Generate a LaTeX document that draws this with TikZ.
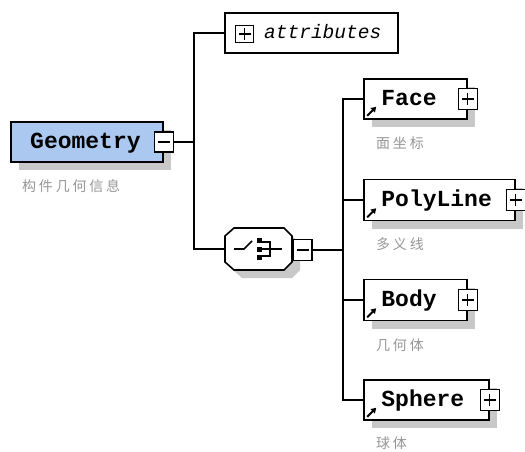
\documentclass[tikz,border=0pt]{standalone}
\usepackage{fontspec}
\setmonofont{Liberation Mono}
\newfontfamily\cjk[LetterSpace=20]{Noto Sans CJK SC}
\usetikzlibrary{arrows.meta,shadows}
\definecolor{boxblue}{RGB}{170,200,240}
\definecolor{shadowgray}{RGB}{200,200,200}
\definecolor{labelgray}{RGB}{150,150,150}
\begin{document}
\begin{tikzpicture}[x=1pt,y=-1pt,
  elem/.style={draw=black, line width=1.6pt, fill=white, rectangle, inner sep=0,
    drop shadow={shadow xshift=8pt, shadow yshift=-8pt, fill=shadowgray, opacity=1}},
  pm/.style={draw=black, line width=1.3pt, fill=white, minimum width=19pt, minimum height=20pt, inner sep=0},
  pmline/.style={line width=1.3pt},
  conn/.style={line width=1.5pt, line join=miter},
  ename/.style={font=\ttfamily\bfseries\fontsize{23}{23}\selectfont, inner sep=0, anchor=base west},
  clabel/.style={font=\cjk\fontsize{14}{14}\selectfont, text=labelgray, inner sep=0, anchor=west},
  refarrow/.style={line width=1.8pt, -{Triangle[length=5pt,width=6pt]}},
]
\useasboundingbox (0,0) rectangle (525,452);

% Geometry
\node[elem, fill=boxblue, minimum width=152pt, minimum height=40pt] (geo) at (87,142) {};
\node[ename] (geot) at (30,148) {Geometry};
\node[pm] (geom) at (geo.east) {};
\draw[pmline] ([xshift=-6pt]geom.center) -- ([xshift=6pt]geom.center);
\node[clabel] (geol) at (22,186) {构件几何信息};

% attributes
\node[draw=black, line width=1.6pt, fill=white, minimum width=173pt, minimum height=40pt, inner sep=0] (attr) at (311.5,33) {};
\node[pm, minimum width=18pt, minimum height=17pt] (attrp) at (244.5,34) {};
\draw[pmline] ([xshift=-6pt]attrp.center) -- ([xshift=6pt]attrp.center);
\draw[pmline] ([yshift=-6pt]attrp.center) -- ([yshift=6pt]attrp.center);
\node[font=\ttfamily\itshape\fontsize{19.5}{19.5}\selectfont, inner sep=0, anchor=base west] (attrt) at (264,39) {attributes};

% sequence compositor (octagon drawn directly)
\fill[shadowgray] (242,236) -- (292,236) -- (300,244) -- (300,270) -- (292,278) -- (242,278) -- (233,270) -- cycle;
\draw[line width=1.6pt, fill=white] (234,228) -- (284,228) -- (292,236) -- (292,262) -- (284,270) -- (234,270) -- (225,262) -- (225,236) -- cycle;
\node[minimum width=67pt, minimum height=42pt, inner sep=0] (seq) at (258.5,249) {};
\node[pm, minimum height=21pt] (seqm) at (302.5,250) {};
\draw[pmline] ([xshift=-6pt]seqm.center) -- ([xshift=6pt]seqm.center);
% compositor icon
\draw[line width=1.6pt] (234,249) -- (244,249) -- (252,241);
\fill (257,238) rectangle (262,243);
\fill (257,247) rectangle (262,252);
\fill (257,255) rectangle (262,260);
\draw[line width=1.5pt] (262,242) -- (270,242) -- (270,256) -- (262,256);
\draw[line width=1.5pt] (262,249) -- (282,249);

% trunks
\coordinate (t1) at (194,142);
\coordinate (t2) at (343,250);
\draw[conn] (geom.east) -- (t1);
\draw[conn] (attr.west) -| (t1);
\draw[conn] (seq.west) -| (t1);
\draw[conn] (seqm.east) -- (t2);

% children
\node[elem, minimum width=103pt, minimum height=40pt] (face) at (415.5,99) {};
\node[elem, minimum width=151pt, minimum height=41pt] (poly) at (439.5,200) {};
\node[elem, minimum width=103pt, minimum height=41pt] (body) at (415.5,300) {};
\node[elem, minimum width=125pt, minimum height=40pt] (sph) at (426.5,400) {};

\foreach \n/\t in {face/Face, poly/PolyLine, body/Body, sph/Sphere}{
  \node[ename] (\n t) at ([xshift=18pt,yshift=-6pt]\n.west) {\t};
  \node[pm, minimum height=21pt] (\n p) at (\n.east) {};
  \draw[pmline] ([xshift=-6pt]\n p.center) -- ([xshift=6pt]\n p.center);
  \draw[pmline] ([yshift=-6pt]\n p.center) -- ([yshift=6pt]\n p.center);
  \draw[refarrow] ([xshift=4pt,yshift=4pt]\n.south west) -- ([xshift=13pt,yshift=13pt]\n.south west);
  \draw[conn] (\n.west) -| (t2);
}

\node[clabel] (facel) at (376,143) {面坐标};
\node[clabel] (polyl) at (376,244) {多义线};
\node[clabel] (bodyl) at (376,345) {几何体};
\node[clabel] (sphl) at (376,443) {球体};
\end{tikzpicture}
\end{document}
